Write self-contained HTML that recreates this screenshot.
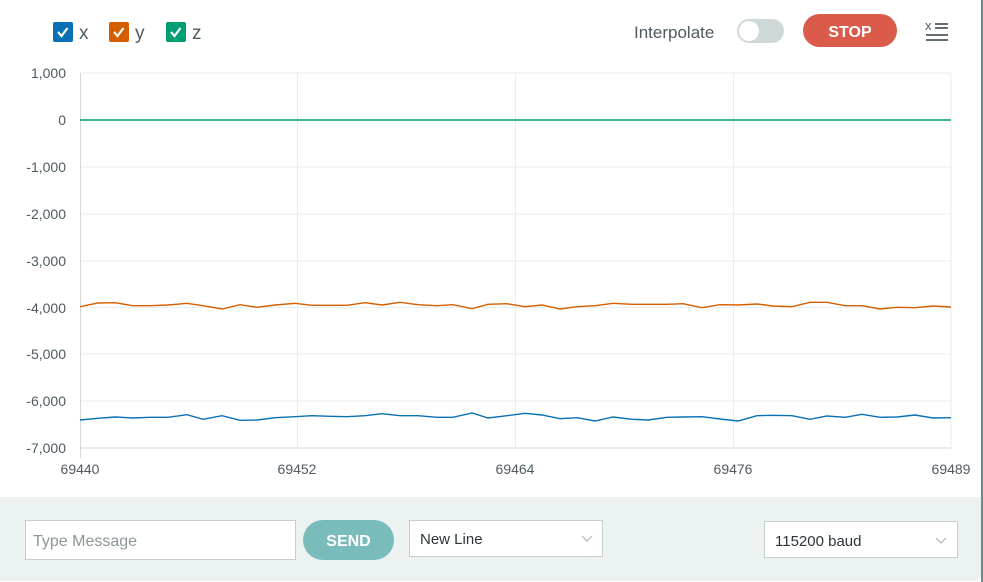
<!DOCTYPE html>
<html><head><meta charset="utf-8"><style>
html,body{margin:0;padding:0;width:983px;height:582px;overflow:hidden;background:#fff;font-family:"Liberation Sans",sans-serif}
.abs{position:absolute}
</style></head><body>
<div class="abs" style="left:981px;top:0;width:2px;height:582px;background:#6f8a8a"></div>
<div class="abs" style="left:0;top:497px;width:981px;height:84px;background:#ecf1f1;border-bottom-right-radius:6px"></div>
<svg class="abs" style="left:0;top:0" width="983" height="582" xmlns="http://www.w3.org/2000/svg">
<!-- legend -->
<rect x="53" y="22" width="20" height="20" rx="2" fill="#0a70b4"/><path d="M58 32 l3.5 4 l6-8" stroke="#fff" stroke-width="2.2" fill="none"/>
<text x="79" y="39" font-size="19" fill="#4e5b61">x</text>
<rect x="109" y="22" width="20" height="20" rx="2" fill="#d55f00"/><path d="M114 32 l3.5 4 l6-8" stroke="#fff" stroke-width="2.2" fill="none"/>
<text x="135" y="39" font-size="19" fill="#4e5b61">y</text>
<rect x="166" y="22" width="20" height="20" rx="2" fill="#009e73"/><path d="M171 32 l3.5 4 l6-8" stroke="#fff" stroke-width="2.2" fill="none"/>
<text x="192" y="39" font-size="19" fill="#4e5b61">z</text>
<text x="634" y="38" font-size="17" fill="#4e5b61">Interpolate</text>
<rect x="737" y="19" width="47" height="24" rx="12" fill="#cfd8d8"/><circle cx="749" cy="31" r="10" fill="#fff"/>
<rect x="803" y="14" width="94" height="33" rx="16.5" fill="#da5b4a"/>
<text x="850" y="37" font-size="16" font-weight="bold" fill="#fff" text-anchor="middle">STOP</text>
<text x="925" y="30" font-size="13" fill="#4e5b61">x</text>
<path d="M935 24h13M935 28h13M926 35h22M926 40h22" stroke="#4e5b61" stroke-width="1.8"/>
<!-- grid -->
<g stroke="#eaeeee" stroke-width="1">
<line x1="80" y1="73" x2="951" y2="73"/><line x1="80" y1="167" x2="951" y2="167"/><line x1="80" y1="214" x2="951" y2="214"/>
<line x1="80" y1="261" x2="951" y2="261"/><line x1="80" y1="307.5" x2="951" y2="307.5"/><line x1="80" y1="354" x2="951" y2="354"/>
<line x1="80" y1="401" x2="951" y2="401"/>
<line x1="297.5" y1="73" x2="297.5" y2="448"/><line x1="515.5" y1="73" x2="515.5" y2="448"/><line x1="733.5" y1="73" x2="733.5" y2="448"/><line x1="951" y1="73" x2="951" y2="448"/>
</g>
<line x1="80" y1="448" x2="951" y2="448" stroke="#d2d8d8"/>
<line x1="80.5" y1="73" x2="80.5" y2="458" stroke="#d2d8d8"/>
<g font-size="14" fill="#4e5b61" text-anchor="end">
<text x="66" y="78">1,000</text><text x="66" y="125">0</text><text x="66" y="172">-1,000</text><text x="66" y="219">-2,000</text>
<text x="66" y="266">-3,000</text><text x="66" y="313">-4,000</text><text x="66" y="359">-5,000</text><text x="66" y="406">-6,000</text><text x="66" y="453">-7,000</text>
</g>
<g font-size="14" fill="#4e5b61" text-anchor="middle">
<text x="80" y="474">69440</text><text x="297" y="474">69452</text><text x="515" y="474">69464</text><text x="733" y="474">69476</text><text x="951" y="474">69489</text>
</g>
<line x1="80" y1="120" x2="951" y2="120" stroke="#009e73" stroke-width="1.4"/>
<polyline fill="none" stroke="#d55f00" stroke-width="1.4" points="80,306.7 98,303 115,302.7 133,305.7 150,305.7 168,305 187,303.3 203,305.7 222,309 240,304.7 257,307.3 275,305 295,303.3 312,305.3 330,305.3 347,305.3 365,302.7 382,305 400,302.3 418,304.7 437,305.7 453,304.7 472,308.7 488,304.3 507,303.7 525,306.7 542,305 560,309 577,306.7 595,305.7 613,303.3 632,304.3 648,304.3 667,304.3 683,303.7 702,307.7 720,304.7 738,305 757,304 773,306 792,306.7 810,302.3 827,302.3 845,305.7 862,305.7 880,309 897,307.3 915,307.7 933,306 951,307"/>
<polyline fill="none" stroke="#0a70b4" stroke-width="1.4" points="80,420 98,418.3 115,417 133,418 150,417.3 168,417.3 187,414.7 203,419.3 222,415.7 240,420.3 257,420 275,417.7 295,416.7 312,415.7 330,416.3 347,416.7 365,415.7 382,413.7 400,415.7 418,415.7 437,417.3 453,417.3 472,413 488,418 507,415.7 525,413.3 542,415 560,418.7 577,417.7 595,421 613,417 632,419.3 648,420 667,417.3 683,417 702,416.7 720,419 738,421 757,415.7 773,415.3 792,415.7 810,419.3 827,416 845,417.3 862,414.3 880,417.3 897,417 915,415 933,418 951,417.7"/>
<!-- bottom controls -->
<rect x="25.5" y="520.5" width="270" height="39" fill="#fff" stroke="#c6cdcd"/>
<text x="33" y="546" font-size="16" fill="#8a9698">Type Message</text>
<rect x="303" y="520" width="91" height="40" rx="20" fill="#7abbbb"/>
<text x="348.5" y="546" font-size="16" font-weight="bold" fill="#fff" text-anchor="middle">SEND</text>
<rect x="409.5" y="520.5" width="193" height="36" fill="#fff" stroke="#c6cdcd"/>
<text x="420" y="544" font-size="15" fill="#2c3538">New Line</text>
<path d="M582 536l5 5l5-5" stroke="#b0b8b8" fill="none" stroke-width="1.2"/>
<rect x="764.5" y="521.5" width="193" height="36" fill="#fff" stroke="#c6cdcd"/>
<text x="775" y="546" font-size="15" fill="#2c3538">115200 baud</text>
<path d="M936 538l5 5l5-5" stroke="#b0b8b8" fill="none" stroke-width="1.2"/>
</svg>
</body></html>
